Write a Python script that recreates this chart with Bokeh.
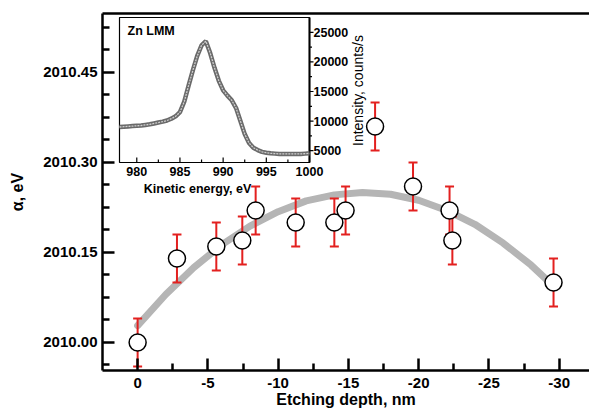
import math
from bokeh.plotting import figure
from bokeh.models import Range1d, LinearAxis, FixedTicker
from bokeh.embed import file_html
from bokeh.resources import INLINE
from bokeh.core.properties import value

# ---------------- data ----------------
DEPTH = [0.0, -2.8, -5.6, -7.45, -8.4, -11.25, -14.0, -14.8, -16.9, -19.6, -22.2, -22.4, -29.6]
ALPHA = [2010.00, 2010.14, 2010.16, 2010.17, 2010.22, 2010.20, 2010.20, 2010.22, 2010.36,
         2010.26, 2010.22, 2010.17, 2010.10]
ALPHA_ERR = [0.04, 0.04, 0.04, 0.04, 0.04, 0.04, 0.04, 0.04, 0.04, 0.04, 0.04, 0.04, 0.04]

FIT_DEPTH = [0, -2, -4, -6, -8, -10, -12, -14, -16, -18, -20, -22, -24, -26, -28, -29.6]
FIT_ALPHA = [2010.028, 2010.080, 2010.125, 2010.163, 2010.194, 2010.218, 2010.236, 2010.246,
             2010.250, 2010.247, 2010.237, 2010.220, 2010.197, 2010.166, 2010.129, 2010.094]

X_TICKS = [0, -5, -10, -15, -20, -25, -30]
X_TICK_LABELS = ["0", "-5", "-10", "-15", "-20", "-25", "-30"]
X_MINOR = [-2.5, -7.5, -12.5, -17.5, -22.5, -27.5]
Y_TICKS = [2010.00, 2010.15, 2010.30, 2010.45]
Y_TICK_LABELS = ["2010.00", "2010.15", "2010.30", "2010.45"]
Y_MINOR = [2009.9625, 2010.0375, 2010.075, 2010.1125, 2010.1875, 2010.225, 2010.2625,
           2010.3375, 2010.375, 2010.4125, 2010.4875, 2010.525]

# inset spectrum (Zn LMM)
ENERGY = [978.0, 978.5, 979.0, 979.5, 980.0, 980.5, 981.0, 981.5, 982.0, 982.5, 983.0, 983.5,
          984.0, 984.5, 985.0, 985.5, 986.0, 986.5, 987.0, 987.5, 988.0, 988.5, 989.0, 989.5,
          990.0, 990.5, 991.0, 991.5, 992.0, 992.5, 993.0, 993.5, 994.0, 994.5, 995.0, 995.5,
          996.0, 996.5, 997.0, 997.5, 998.0, 998.5, 999.0, 999.5, 1000.0]
INTENSITY = [9000, 9050, 9100, 9150, 9200, 9250, 9350, 9450, 9600, 9750, 9900, 10100,
             10400, 10800, 11500, 13300, 16000, 18600, 21000, 22800, 23500, 21500, 19000, 16800,
             15200, 14300, 13500, 12200, 10000, 7800, 6300, 5500, 5100, 4800, 4650, 4550,
             4500, 4450, 4450, 4450, 4450, 4450, 4450, 4500, 4550]
IX_TICKS = [980, 985, 990, 995, 1000]
IX_TICK_LABELS = ["980", "985", "990", "995", "1000"]
IX_MINOR = [982.5, 987.5, 992.5, 997.5]
IY_TICKS = [5000, 10000, 15000, 20000, 25000]
IY_TICK_LABELS = ["5000", "10000", "15000", "20000", "25000"]
IY_MINOR = [7500, 12500, 17500, 22500]

# ---------------- layout ----------------
W, H = 589, 412
FL, FR, FT, FB = 102, 589, 13, 370      # main frame (px)
IL, IR, IT, IB = 119, 309, 17, 162      # inset frame (px)
X_START, X_END = 2.5, -32.16
Y_START, Y_END = 2009.9533, 2010.5483
IX_LIM = (978.0, 1000.0)
IY_LIM = (3000.0, 27500.0)

sx = (IR - IL) / (IX_LIM[1] - IX_LIM[0])
sy = (IB - IT) / (IY_LIM[1] - IY_LIM[0])
ix_range = Range1d(IX_LIM[0] - (IL - FL) / sx, IX_LIM[0] + (FR - IL) / sx)
iy_range = Range1d(IY_LIM[0] - (FB - IB) / sy, IY_LIM[0] + (IB - FT) / sy)


def ipx(px, py):
    return IX_LIM[0] + (px - IL) / sx, IY_LIM[0] + (IB - py) / sy


FONT = value("Liberation Sans")
RED = "#e3201f"

p = figure(width=W, height=H, x_range=Range1d(X_START, X_END), y_range=Range1d(Y_START, Y_END),
           output_backend="svg", toolbar_location=None,
           min_border_left=FL, min_border_right=W - FR, min_border_top=FT, min_border_bottom=H - FB,
           x_axis_label="Etching depth, nm", y_axis_label="α, eV")
p.extra_x_ranges = {"ix": ix_range}
p.extra_y_ranges = {"iy": iy_range}
p.outline_line_color = None
p.grid.visible = False
p.background_fill_color = "white"
p.border_fill_color = "white"

for ax in (p.xaxis[0], p.yaxis[0]):
    ax.axis_line_width = 2.5
    ax.major_tick_line_width = 2.5
    ax.minor_tick_line_width = 2.5
    ax.major_tick_in = 12
    ax.major_tick_out = 0
    ax.minor_tick_in = 7
    ax.minor_tick_out = 0
    ax.major_label_text_font = "Liberation Sans"
    ax.major_label_text_font_style = "bold"
    ax.major_label_text_font_size = "15px"
    ax.major_label_text_color = "black"
    ax.axis_label_text_font = "Liberation Sans"
    ax.axis_label_text_font_style = "bold"
    ax.axis_label_text_font_size = "16px"
    ax.axis_label_text_color = "black"

p.xaxis[0].ticker = FixedTicker(ticks=X_TICKS, minor_ticks=X_MINOR)
p.xaxis[0].major_label_overrides = {t: l for t, l in zip(X_TICKS, X_TICK_LABELS)}
p.xaxis[0].major_label_standoff = 7
p.xaxis[0].axis_label_standoff = 0
p.yaxis[0].ticker = FixedTicker(ticks=Y_TICKS, minor_ticks=Y_MINOR)
p.yaxis[0].major_label_overrides = {t: l for t, l in zip(Y_TICKS, Y_TICK_LABELS)}
p.yaxis[0].major_label_standoff = 5
p.yaxis[0].axis_label_standoff = 14

top = LinearAxis(ticker=FixedTicker(ticks=[]), axis_line_width=2.5,
                 major_label_text_font_size="0px", major_tick_line_color=None,
                 minor_tick_line_color=None)
p.add_layout(top, "above")

# fit curve
p.line(FIT_DEPTH, FIT_ALPHA, line_color="#b5b5b5", line_width=7, line_cap="round")

# error bars
lo = [a - e for a, e in zip(ALPHA, ALPHA_ERR)]
hi = [a + e for a, e in zip(ALPHA, ALPHA_ERR)]
p.segment(x0=DEPTH, y0=lo, x1=DEPTH, y1=hi, line_color=RED, line_width=2)
p.scatter(DEPTH + DEPTH, lo + hi, marker="dash", size=9, line_color=RED, line_width=2)

# points
p.scatter(DEPTH, ALPHA, marker="circle", size=17, fill_color="white", line_color="black",
          line_width=1.5)

# ---------------- inset ----------------
R = dict(x_range_name="ix", y_range_name="iy")
p.quad(left=IX_LIM[0], right=IX_LIM[1], bottom=IY_LIM[0], top=IY_LIM[1],
       fill_color="white", line_color="black", line_width=1.2, **R)
p.segment(x0=IX_LIM[1], y0=IY_LIM[0], x1=IX_LIM[1], y1=IY_LIM[1], line_color="black",
          line_width=2, **R)
p.line(ENERGY, INTENSITY, line_color="#6a6a6a", line_width=4.5, **R)
p.line(ENERGY, INTENSITY, line_color="#cfcfcf", line_width=1.3, line_dash="2 1", **R)

# inset ticks
p.segment(x0=IX_TICKS, y0=[IY_LIM[0]] * len(IX_TICKS), x1=IX_TICKS,
          y1=[IY_LIM[0] + 5 / sy] * len(IX_TICKS), line_color="black", line_width=1.2, **R)
p.segment(x0=IX_MINOR, y0=[IY_LIM[0]] * len(IX_MINOR), x1=IX_MINOR,
          y1=[IY_LIM[0] + 3 / sy] * len(IX_MINOR), line_color="black", line_width=1.2, **R)
p.segment(x0=[IX_LIM[1]] * len(IY_TICKS), y0=IY_TICKS, x1=[IX_LIM[1] + 4 / sx] * len(IY_TICKS),
          y1=IY_TICKS, line_color="black", line_width=1.2, **R)
p.segment(x0=[IX_LIM[1]] * len(IY_MINOR), y0=IY_MINOR, x1=[IX_LIM[1] + 2.5 / sx] * len(IY_MINOR),
          y1=IY_MINOR, line_color="black", line_width=1.2, **R)

p.text(x=IX_TICKS, y=[IY_LIM[0]] * len(IX_TICKS), text=IX_TICK_LABELS, text_align="center",
       text_baseline="top", y_offset=4, text_font=FONT, text_font_style="bold",
       text_font_size="12.5px", text_color="black", **R)
p.text(x=[IX_LIM[1]] * len(IY_TICKS), y=IY_TICKS, text=IY_TICK_LABELS, text_align="left",
       text_baseline="middle", x_offset=4, text_font=FONT, text_font_style="bold",
       text_font_size="12.5px", text_color="black", **R)

zx, zy = ipx(127, 30)
p.text(x=[zx], y=[zy], text=["Zn LMM"], text_align="left", text_baseline="middle",
       text_font=FONT, text_font_style="bold", text_font_size="12.5px", text_color="black", **R)
kx, ky = ipx(197, 188)
p.text(x=[kx], y=[ky], text=["Kinetic energy, eV"], text_align="center", text_baseline="middle",
       text_font=FONT, text_font_style="bold", text_font_size="12.5px", text_color="black", **R)
nx, ny = ipx(357, 90)
p.text(x=[nx], y=[ny], text=["Intensity, counts/s"], text_align="center", text_baseline="middle",
       angle=math.pi / 2, text_font=FONT, text_font_size="14px", text_color="black", **R)

open("out.html", "w").write(file_html(p, INLINE))
